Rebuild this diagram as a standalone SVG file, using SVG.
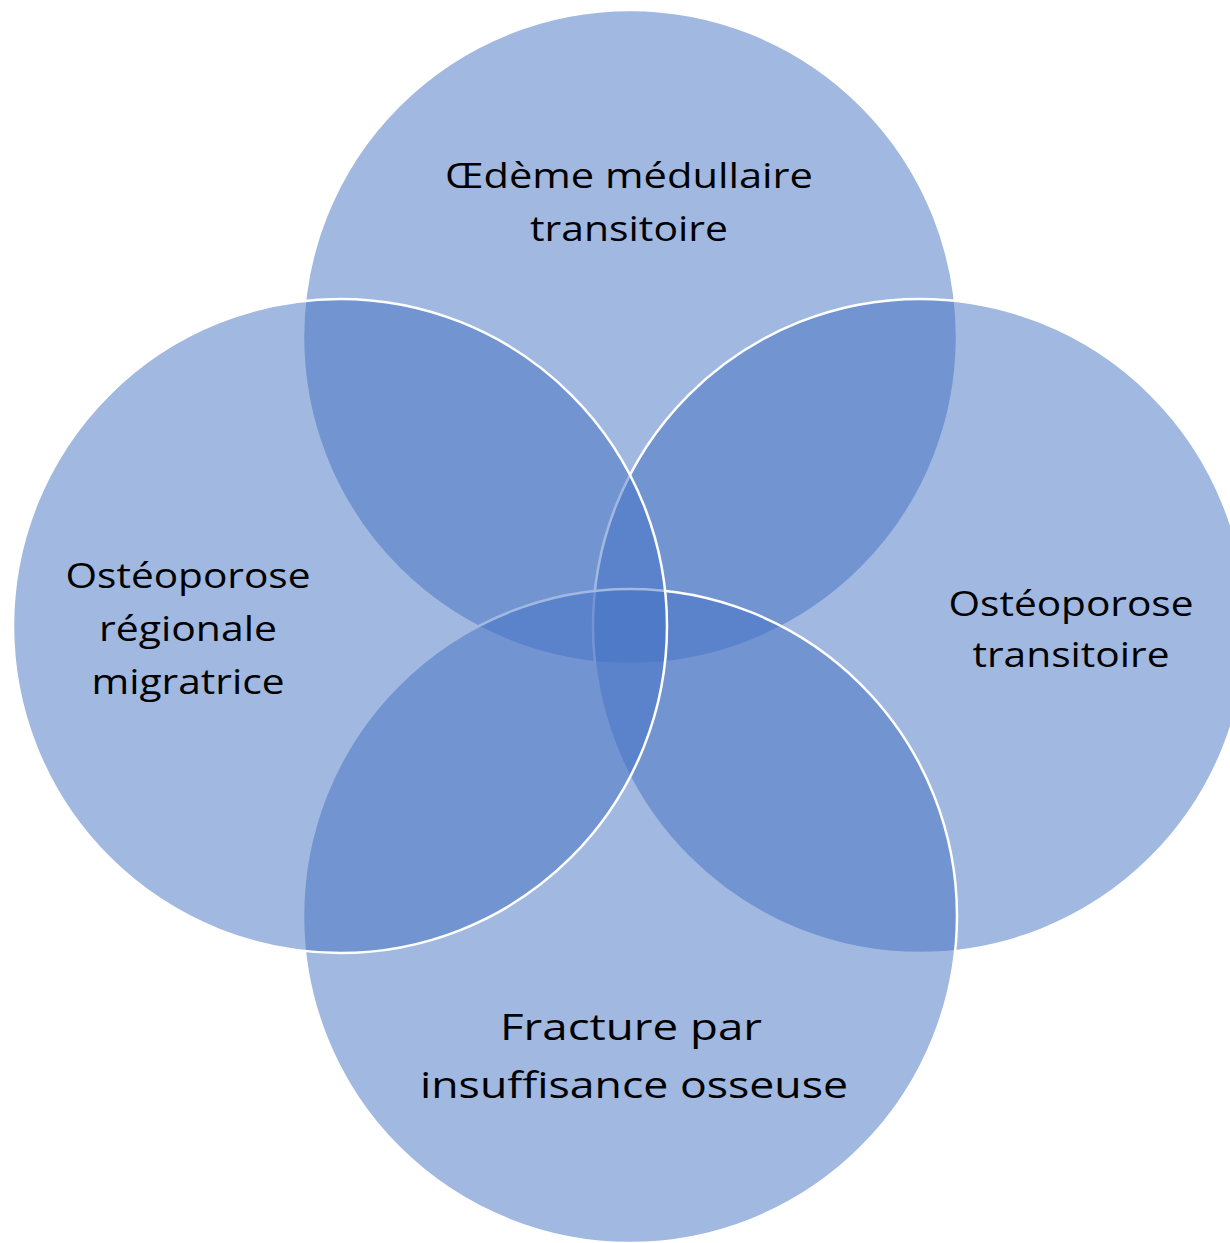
<svg xmlns="http://www.w3.org/2000/svg" width="1230" height="1243" viewBox="0 0 1230 1243">
<style>
.c{fill:#4472C4;fill-opacity:0.5;stroke:#FFFFFF;stroke-width:2.5}
.t{font-family:"Open Sans","Noto Sans","Liberation Sans",sans-serif;font-size:34px;fill:#000000;text-anchor:middle}
.b{font-size:36px}
</style>
<rect width="1230" height="1243" fill="#FFFFFF"/>
<g id="top">
<circle class="c" cx="630" cy="337" r="327"/>
<text class="t" x="629" y="188" textLength="368" lengthAdjust="spacingAndGlyphs">Œdème médullaire</text>
<text class="t" x="629" y="241" textLength="198" lengthAdjust="spacingAndGlyphs">transitoire</text>
</g>
<g id="right">
<circle class="c" cx="920" cy="626" r="327"/>
<text class="t" x="1071" y="616" textLength="245" lengthAdjust="spacingAndGlyphs">Ostéoporose</text>
<text class="t" x="1071" y="667" textLength="197" lengthAdjust="spacingAndGlyphs">transitoire</text>
</g>
<g id="bottom">
<circle class="c" cx="630" cy="916" r="327"/>
<text class="t b" x="631" y="1040" textLength="262" lengthAdjust="spacingAndGlyphs">Fracture par</text>
<text class="t b" x="634" y="1098" textLength="428" lengthAdjust="spacingAndGlyphs">insuffisance osseuse</text>
</g>
<g id="left">
<circle class="c" cx="340" cy="626" r="327"/>
<text class="t" x="188" y="588" textLength="245" lengthAdjust="spacingAndGlyphs">Ostéoporose</text>
<text class="t" x="188" y="641" textLength="178" lengthAdjust="spacingAndGlyphs">régionale</text>
<text class="t" x="188" y="694" textLength="193" lengthAdjust="spacingAndGlyphs">migratrice</text>
</g>
<g id="connectors"></g>
</svg>
